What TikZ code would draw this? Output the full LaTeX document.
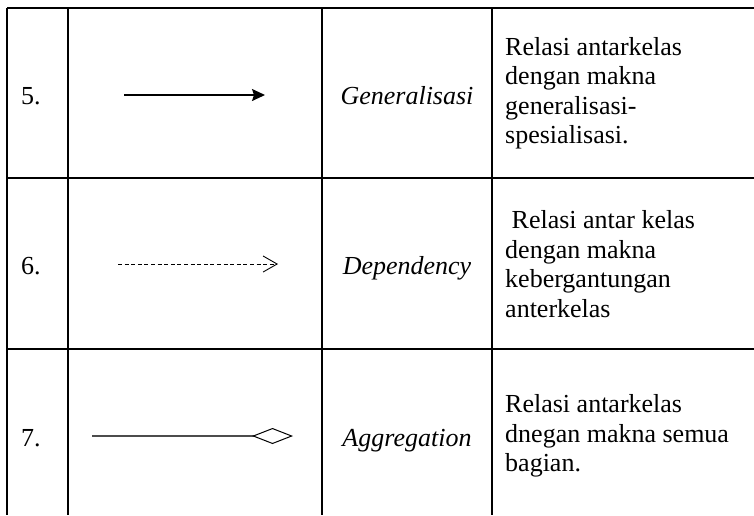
\documentclass[tikz,border=0pt]{standalone}
\usepackage{fontspec}
\setmainfont{Liberation Serif}
\usetikzlibrary{arrows.meta}
\begin{document}
\begin{tikzpicture}[x=1pt,y=-1pt,
  rule/.style={line width=1.3pt,black},
  numtxt/.style={inner sep=0pt,anchor=base west,font=\fontsize{26}{30}\selectfont},
  desctxt/.style={inner sep=0pt,anchor=west,align=left,font=\fontsize{26}{29.5}\selectfont},
  kindtxt/.style={inner sep=0pt,anchor=base,font=\fontsize{26}{30}\selectfont\itshape}]
\useasboundingbox (0,0) rectangle (754,515);
% table rules
\draw[rule] (7,8) -- (754,8);
\draw[rule] (7,178) -- (754,178);
\draw[rule] (7,349) -- (754,349);
\foreach \x in {7,68,322,492} \draw[rule] (\x,8) -- (\x,515);

% row 5: generalisation
\node[numtxt] (n5) at (21,104) {5.};
\coordinate (g1) at (124,95);
\coordinate (g2) at (265,95);
\draw[line width=1.6pt,-{Stealth[width=12pt,length=13pt,inset=2pt]}] (g1) -- (g2);
\node[kindtxt] (t5) at (407,104) {Generalisasi};
\node[desctxt] (d5) at (505,93) {Relasi antarkelas\\dengan makna\\generalisasi-\\spesialisasi.};

% row 6: dependency
\node[numtxt] (n6) at (21,274) {6.};
\coordinate (p1) at (118,264);
\coordinate (p2) at (278,264);
\draw[line width=0.8pt,dash pattern=on 4pt off 2.6pt,-{Straight Barb[width=16pt,length=14pt,line width=0.9pt]}] (p1) -- (p2);
\node[kindtxt] (t6) at (407,274) {Dependency};
\node[desctxt] (d6) at (505,264) {\ Relasi antar kelas\\dengan makna\\kebergantungan\\anterkelas};

% row 7: aggregation
\node[numtxt] (n7) at (21,446) {7.};
\coordinate (a1) at (92,436);
\coordinate (a2) at (293,436);
\draw[line width=1.2pt,black!70,-{Diamond[open,width=16pt,length=41pt,line width=1pt,black]}] (a1) -- (a2);
\node[kindtxt] (t7) at (407,446) {Aggregation};
\node[desctxt] (d7) at (505,436) {Relasi antarkelas\\dnegan makna semua\\bagian.};
\end{tikzpicture}
\end{document}
